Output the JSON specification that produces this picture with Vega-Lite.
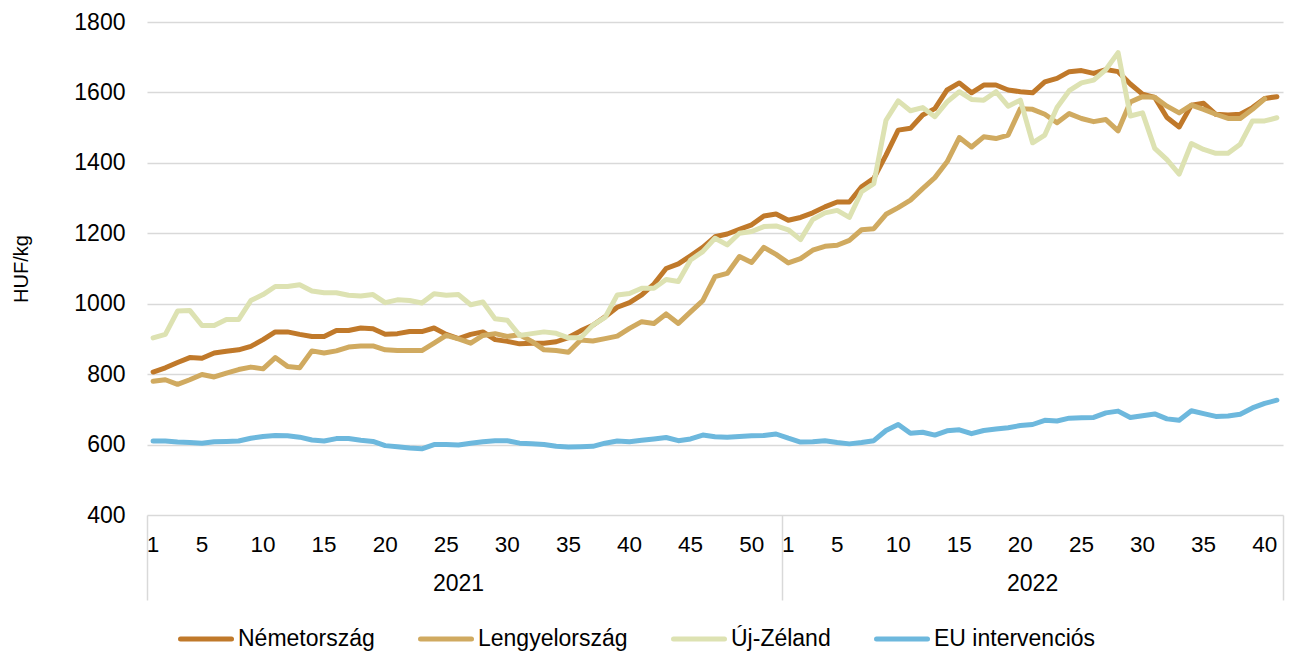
{
  "$schema": "https://vega.github.io/schema/vega-lite/v6.json",
  "width": 1136,
  "height": 493,
  "autosize": "none",
  "padding": {"left": 147, "top": 22, "right": 13, "bottom": 136},
  "config": {
    "font": "Liberation Sans",
    "view": {"stroke": null},
    "axis": {"labelColor": "#000000", "titleColor": "#000000", "labelFontSize": 23, "titleFontSize": 23, "titleFontWeight": "normal", "labelFont": "Liberation Sans", "titleFont": "Liberation Sans"},
    "legend": {"labelFont": "Liberation Sans"}
  },
  "data": {
    "values": [
      {"t": "2021-01", "Németország": 806, "Lengyelország": 780, "Új-Zéland": 903, "EU intervenciós": 610},
      {"t": "2021-02", "Németország": 818, "Lengyelország": 784, "Új-Zéland": 913, "EU intervenciós": 610},
      {"t": "2021-03", "Németország": 833, "Lengyelország": 771, "Új-Zéland": 979, "EU intervenciós": 607},
      {"t": "2021-04", "Németország": 847, "Lengyelország": 784, "Új-Zéland": 981, "EU intervenciós": 606},
      {"t": "2021-05", "Németország": 845, "Lengyelország": 799, "Új-Zéland": 938, "EU intervenciós": 604},
      {"t": "2021-06", "Németország": 860, "Lengyelország": 792, "Új-Zéland": 938, "EU intervenciós": 608},
      {"t": "2021-07", "Németország": 865, "Lengyelország": 803, "Új-Zéland": 955, "EU intervenciós": 609},
      {"t": "2021-08", "Németország": 869, "Lengyelország": 813, "Új-Zéland": 955, "EU intervenciós": 610},
      {"t": "2021-09", "Németország": 879, "Lengyelország": 820, "Új-Zéland": 1009, "EU intervenciós": 618},
      {"t": "2021-10", "Németország": 898, "Lengyelország": 815, "Új-Zéland": 1026, "EU intervenciós": 623},
      {"t": "2021-11", "Németország": 920, "Lengyelország": 847, "Új-Zéland": 1049, "EU intervenciós": 626},
      {"t": "2021-12", "Németország": 920, "Lengyelország": 822, "Új-Zéland": 1049, "EU intervenciós": 625},
      {"t": "2021-13", "Németország": 913, "Lengyelország": 818, "Új-Zéland": 1054, "EU intervenciós": 621},
      {"t": "2021-14", "Németország": 907, "Lengyelország": 866, "Új-Zéland": 1036, "EU intervenciós": 613},
      {"t": "2021-15", "Németország": 907, "Lengyelország": 860, "Új-Zéland": 1031, "EU intervenciós": 610},
      {"t": "2021-16", "Németország": 924, "Lengyelország": 866, "Új-Zéland": 1031, "EU intervenciós": 617},
      {"t": "2021-17", "Németország": 924, "Lengyelország": 877, "Új-Zéland": 1024, "EU intervenciós": 617},
      {"t": "2021-18", "Németország": 931, "Lengyelország": 880, "Új-Zéland": 1022, "EU intervenciós": 612},
      {"t": "2021-19", "Németország": 929, "Lengyelország": 880, "Új-Zéland": 1026, "EU intervenciós": 609},
      {"t": "2021-20", "Németország": 913, "Lengyelország": 869, "Új-Zéland": 1003, "EU intervenciós": 597},
      {"t": "2021-21", "Németország": 915, "Lengyelország": 867, "Új-Zéland": 1011, "EU intervenciós": 594},
      {"t": "2021-22", "Németország": 921, "Lengyelország": 867, "Új-Zéland": 1009, "EU intervenciós": 590},
      {"t": "2021-23", "Németország": 921, "Lengyelország": 867, "Új-Zéland": 1002, "EU intervenciós": 588},
      {"t": "2021-24", "Németország": 931, "Lengyelország": 888, "Új-Zéland": 1028, "EU intervenciós": 600},
      {"t": "2021-25", "Németország": 913, "Lengyelország": 910, "Új-Zéland": 1024, "EU intervenciós": 600},
      {"t": "2021-26", "Németország": 901, "Lengyelország": 900, "Új-Zéland": 1026, "EU intervenciós": 599},
      {"t": "2021-27", "Németország": 913, "Lengyelország": 888, "Új-Zéland": 997, "EU intervenciós": 604},
      {"t": "2021-28", "Németország": 920, "Lengyelország": 910, "Új-Zéland": 1005, "EU intervenciós": 608},
      {"t": "2021-29", "Németország": 898, "Lengyelország": 915, "Új-Zéland": 957, "EU intervenciós": 611},
      {"t": "2021-30", "Németország": 893, "Lengyelország": 907, "Új-Zéland": 953, "EU intervenciós": 611},
      {"t": "2021-31", "Németország": 886, "Lengyelország": 912, "Új-Zéland": 910, "EU intervenciós": 604},
      {"t": "2021-32", "Németország": 888, "Lengyelország": 893, "Új-Zéland": 915, "EU intervenciós": 602},
      {"t": "2021-33", "Németország": 888, "Lengyelország": 869, "Új-Zéland": 920, "EU intervenciós": 600},
      {"t": "2021-34", "Németország": 892, "Lengyelország": 867, "Új-Zéland": 916, "EU intervenciós": 595},
      {"t": "2021-35", "Németország": 904, "Lengyelország": 862, "Új-Zéland": 903, "EU intervenciós": 593},
      {"t": "2021-36", "Németország": 923, "Lengyelország": 897, "Új-Zéland": 903, "EU intervenciós": 594},
      {"t": "2021-37", "Németország": 939, "Lengyelország": 894, "Új-Zéland": 939, "EU intervenciós": 595},
      {"t": "2021-38", "Németország": 963, "Lengyelország": 901, "Új-Zéland": 961, "EU intervenciós": 604},
      {"t": "2021-39", "Németország": 990, "Lengyelország": 908, "Új-Zéland": 1025, "EU intervenciós": 610},
      {"t": "2021-40", "Németország": 1003, "Lengyelország": 930, "Új-Zéland": 1029, "EU intervenciós": 608},
      {"t": "2021-41", "Németország": 1025, "Lengyelország": 949, "Új-Zéland": 1044, "EU intervenciós": 612},
      {"t": "2021-42", "Németország": 1056, "Lengyelország": 944, "Új-Zéland": 1044, "EU intervenciós": 616},
      {"t": "2021-43", "Németország": 1100, "Lengyelország": 971, "Új-Zéland": 1069, "EU intervenciós": 620},
      {"t": "2021-44", "Németország": 1113, "Lengyelország": 944, "Új-Zéland": 1063, "EU intervenciós": 611},
      {"t": "2021-45", "Németország": 1136, "Lengyelország": 977, "Új-Zéland": 1124, "EU intervenciós": 616},
      {"t": "2021-46", "Németország": 1160, "Lengyelország": 1009, "Új-Zéland": 1148, "EU intervenciós": 627},
      {"t": "2021-47", "Németország": 1190, "Lengyelország": 1077, "Új-Zéland": 1186, "EU intervenciós": 622},
      {"t": "2021-48", "Németország": 1198, "Lengyelország": 1086, "Új-Zéland": 1167, "EU intervenciós": 621},
      {"t": "2021-49", "Németország": 1211, "Lengyelország": 1134, "Új-Zéland": 1200, "EU intervenciós": 623},
      {"t": "2021-50", "Németország": 1224, "Lengyelország": 1117, "Új-Zéland": 1205, "EU intervenciós": 625},
      {"t": "2021-51", "Németország": 1249, "Lengyelország": 1160, "Új-Zéland": 1219, "EU intervenciós": 626},
      {"t": "2021-52", "Németország": 1255, "Lengyelország": 1140, "Új-Zéland": 1221, "EU intervenciós": 630},
      {"t": "2022-01", "Németország": 1237, "Lengyelország": 1116, "Új-Zéland": 1210, "EU intervenciós": 618},
      {"t": "2022-02", "Németország": 1245, "Lengyelország": 1128, "Új-Zéland": 1182, "EU intervenciós": 607},
      {"t": "2022-03", "Németország": 1258, "Lengyelország": 1152, "Új-Zéland": 1239, "EU intervenciós": 608},
      {"t": "2022-04", "Németország": 1275, "Lengyelország": 1163, "Új-Zéland": 1258, "EU intervenciós": 611},
      {"t": "2022-05", "Németország": 1289, "Lengyelország": 1166, "Új-Zéland": 1265, "EU intervenciós": 606},
      {"t": "2022-06", "Németország": 1289, "Lengyelország": 1180, "Új-Zéland": 1245, "EU intervenciós": 602},
      {"t": "2022-07", "Németország": 1332, "Lengyelország": 1210, "Új-Zéland": 1318, "EU intervenciós": 606},
      {"t": "2022-08", "Németország": 1356, "Lengyelország": 1213, "Új-Zéland": 1341, "EU intervenciós": 611},
      {"t": "2022-09", "Németország": 1422, "Lengyelország": 1254, "Új-Zéland": 1521, "EU intervenciós": 640},
      {"t": "2022-10", "Németország": 1493, "Lengyelország": 1273, "Új-Zéland": 1576, "EU intervenciós": 657},
      {"t": "2022-11", "Németország": 1498, "Lengyelország": 1294, "Új-Zéland": 1548, "EU intervenciós": 632},
      {"t": "2022-12", "Németország": 1536, "Lengyelország": 1327, "Új-Zéland": 1557, "EU intervenciós": 635},
      {"t": "2022-13", "Németország": 1554, "Lengyelország": 1358, "Új-Zéland": 1531, "EU intervenciós": 627},
      {"t": "2022-14", "Németország": 1607, "Lengyelország": 1403, "Új-Zéland": 1573, "EU intervenciós": 639},
      {"t": "2022-15", "Németország": 1627, "Lengyelország": 1472, "Új-Zéland": 1602, "EU intervenciós": 642},
      {"t": "2022-16", "Németország": 1599, "Lengyelország": 1445, "Új-Zéland": 1580, "EU intervenciós": 631},
      {"t": "2022-17", "Németország": 1621, "Lengyelország": 1474, "Új-Zéland": 1578, "EU intervenciós": 640},
      {"t": "2022-18", "Németország": 1621, "Lengyelország": 1469, "Új-Zéland": 1602, "EU intervenciós": 644},
      {"t": "2022-19", "Németország": 1607, "Lengyelország": 1479, "Új-Zéland": 1561, "EU intervenciós": 648},
      {"t": "2022-20", "Németország": 1602, "Lengyelország": 1554, "Új-Zéland": 1578, "EU intervenciós": 654},
      {"t": "2022-21", "Németország": 1599, "Lengyelország": 1552, "Új-Zéland": 1457, "EU intervenciós": 657},
      {"t": "2022-22", "Németország": 1630, "Lengyelország": 1538, "Új-Zéland": 1479, "EU intervenciós": 669},
      {"t": "2022-23", "Németország": 1640, "Lengyelország": 1514, "Új-Zéland": 1557, "EU intervenciós": 667},
      {"t": "2022-24", "Németország": 1659, "Lengyelország": 1540, "Új-Zéland": 1605, "EU intervenciós": 675},
      {"t": "2022-25", "Németország": 1662, "Lengyelország": 1526, "Új-Zéland": 1627, "EU intervenciós": 676},
      {"t": "2022-26", "Németország": 1654, "Lengyelország": 1517, "Új-Zéland": 1635, "EU intervenciós": 677},
      {"t": "2022-27", "Németország": 1665, "Lengyelország": 1523, "Új-Zéland": 1665, "EU intervenciós": 690},
      {"t": "2022-28", "Németország": 1659, "Lengyelország": 1491, "Új-Zéland": 1713, "EU intervenciós": 695},
      {"t": "2022-29", "Németország": 1624, "Lengyelország": 1573, "Új-Zéland": 1533, "EU intervenciós": 677},
      {"t": "2022-30", "Németország": 1595, "Lengyelország": 1588, "Új-Zéland": 1542, "EU intervenciós": 682},
      {"t": "2022-31", "Németország": 1586, "Lengyelország": 1586, "Új-Zéland": 1441, "EU intervenciós": 687},
      {"t": "2022-32", "Németország": 1529, "Lengyelország": 1561, "Új-Zéland": 1409, "EU intervenciós": 673},
      {"t": "2022-33", "Németország": 1502, "Lengyelország": 1542, "Új-Zéland": 1368, "EU intervenciós": 669},
      {"t": "2022-34", "Németország": 1564, "Lengyelország": 1564, "Új-Zéland": 1455, "EU intervenciós": 696},
      {"t": "2022-35", "Németország": 1569, "Lengyelország": 1552, "Új-Zéland": 1438, "EU intervenciós": 688},
      {"t": "2022-36", "Németország": 1538, "Lengyelország": 1538, "Új-Zéland": 1427, "EU intervenciós": 680},
      {"t": "2022-37", "Németország": 1536, "Lengyelország": 1526, "Új-Zéland": 1427, "EU intervenciós": 681},
      {"t": "2022-38", "Németország": 1538, "Lengyelország": 1526, "Új-Zéland": 1453, "EU intervenciós": 686},
      {"t": "2022-39", "Németország": 1557, "Lengyelország": 1552, "Új-Zéland": 1519, "EU intervenciós": 704},
      {"t": "2022-40", "Németország": 1583, "Lengyelország": 1582, "Új-Zéland": 1519, "EU intervenciós": 717},
      {"t": "2022-41", "Németország": 1588, "Lengyelország": null, "Új-Zéland": 1528, "EU intervenciós": 726}
    ]
  },
  "layer": [
    {
      "transform": [{"fold": ["Németország", "Lengyelország", "Új-Zéland", "EU intervenciós"], "as": ["series", "value"]}],
      "mark": {"type": "line", "strokeWidth": 5, "strokeCap": "round", "strokeJoin": "round"},
      "encoding": {
        "x": {
          "field": "t", "type": "ordinal", "sort": null,
          "scale": {"type": "band", "paddingInner": 0, "paddingOuter": 0},
          "bandPosition": 0.5,
          "axis": {
            "orient": "bottom", "title": null, "grid": false, "domain": false, "ticks": false, "tickSize": 0,
            "values": ["2021-01", "2021-05", "2021-10", "2021-15", "2021-20", "2021-25", "2021-30", "2021-35", "2021-40", "2021-45", "2021-50", "2022-01", "2022-05", "2022-10", "2022-15", "2022-20", "2022-25", "2022-30", "2022-35", "2022-40"],
            "labelExpr": "'' + toNumber(substring(datum.value, 5, 7))",
            "labelAngle": 0, "labelPadding": 18, "labelBaseline": "top", "labelFontSize": 22.5
          }
        },
        "y": {
          "field": "value", "type": "quantitative",
          "scale": {"domain": [400, 1800], "nice": false, "zero": false},
          "axis": {
            "values": [400, 600, 800, 1000, 1200, 1400, 1600, 1800],
            "title": "HUF/kg", "titleFontSize": 20, "grid": true, "gridColor": "#D9D9D9", "gridWidth": 1.5,
            "ticks": false, "domain": false, "labelPadding": 22, "titlePadding": 42, "format": "d"
          }
        },
        "color": {
          "field": "series", "type": "nominal",
          "scale": {
            "domain": ["Németország", "Lengyelország", "Új-Zéland", "EU intervenciós"],
            "range": ["#C0792A", "#D0AA60", "#DDE2B2", "#6DB8DD"]
          },
          "legend": {
            "orient": "none", "legendX": 31, "legendY": 589, "direction": "horizontal", "columns": 4,
            "title": null, "padding": 0, "symbolType": "stroke", "symbolSize": 2601, "symbolStrokeWidth": 5,
            "labelFontSize": 23, "labelColor": "#000000", "labelOffset": 4, "columnPadding": 35, "labelLimit": 400,
            "encode": {"symbols": {"update": {"strokeCap": {"value": "round"}}}}
          }
        }
      }
    },
    {
      "mark": {"type": "point", "opacity": 0},
      "encoding": {
        "x": {
          "field": "t", "type": "ordinal", "sort": null,
          "axis": {
            "orient": "bottom", "title": null, "grid": false, "domain": false, "ticks": false, "tickSize": 0,
            "values": ["2021-26", "2022-21"],
            "labelExpr": "substring(datum.value, 0, 4)",
            "labelAngle": 0, "labelPadding": 57, "labelBaseline": "top", "labelFontSize": 23,
            "encode": {"labels": {"update": {"dx": {"signal": "datum.value === '2021-26' ? 6 : 0"}}}}
          }
        }
      }
    },
    {
      "mark": {"type": "point", "opacity": 0},
      "encoding": {
        "x": {
          "field": "t", "type": "ordinal", "sort": null,
          "axis": {
            "orient": "bottom", "title": null, "grid": false, "domain": false, "labels": false,
            "ticks": true, "tickSize": 85, "tickColor": "#D9D9D9", "tickWidth": 1.5, "bandPosition": 0,
            "values": ["2021-01", "2022-01"]
          }
        }
      }
    },
    {
      "mark": {"type": "point", "opacity": 0},
      "encoding": {
        "x": {
          "field": "t", "type": "ordinal", "sort": null,
          "axis": {
            "orient": "bottom", "title": null, "grid": false, "domain": false, "labels": false,
            "ticks": true, "tickSize": 85, "tickColor": "#D9D9D9", "tickWidth": 1.5, "bandPosition": 1,
            "values": ["2022-41"]
          }
        }
      }
    }
  ],
  "resolve": {"axis": {"x": "independent"}}
}
